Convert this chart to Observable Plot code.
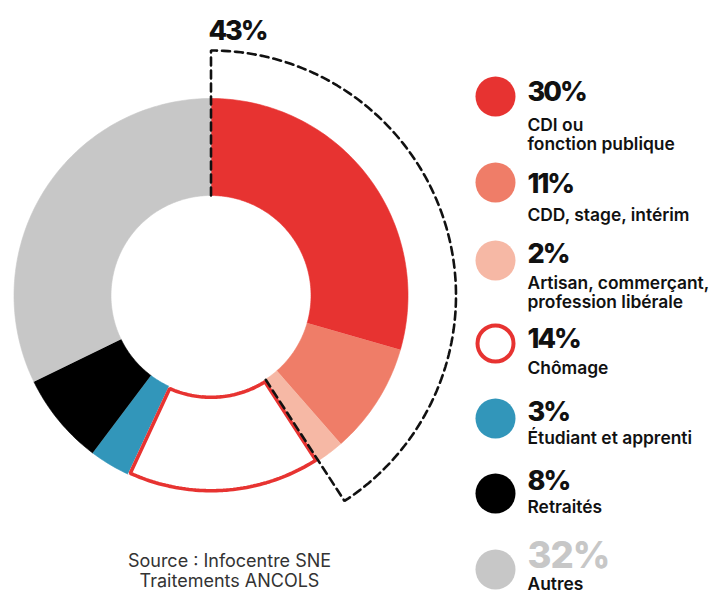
<!DOCTYPE html>
<html>
<head>
<meta charset="utf-8">
<script src="https://cdn.jsdelivr.net/npm/d3@7"></script>
<script src="https://cdn.jsdelivr.net/npm/@observablehq/plot@0.6"></script>
<style>
  body { margin: 0; background: #fff; }
  #chart svg { display: block; }
</style>
</head>
<body>
<div id="chart"></div>
<script>
// ---- data ----
const keys = ["cdi", "cdd", "artisan", "chomage", "etudiant", "retraites", "autres"];
const categories = [
  "CDI ou\nfonction publique",
  "CDD, stage, intérim",
  "Artisan, commerçant,\nprofession libérale",
  "Chômage",
  "Étudiant et apprenti",
  "Retraités",
  "Autres"
];
const percentLabels = ["30%", "11%", "2%", "14%", "3%", "8%", "32%"];
// slice shares as drawn in the picture (angular share, %)
const sliceShares = [29.44, 9.11, 2.28, 16.1, 3.33, 7.53, 32.21];
const highlightLabel = "43%";
const highlightCount = 3;
const sourceText = "Source : Infocentre SNE\nTraitements ANCOLS";

// ---- styles / layout ----
const colors = ["#e73331", "#ef7d68", "#f6b8a5", "#ffffff", "#3296ba", "#000000", "#c7c7c7"];
const chomageStroke = "#e73331";
const W = 709, H = 594;
const cx = 210.5, cy = 295, rOuter = 197, rInner = 100, rDash = 245;
const legendX = 495, textX = 527;
const legendY = [96, 182, 260, 343, 418, 493, 569];
const pctBase = [100, 192, 262, 347, 420, 489, 567];
const labelBase = [149, 220, 307, 373, 443, 512, 589];
const FONT = "Inter, 'Noto Sans', sans-serif";

const total = d3.sum(sliceShares);
const cum = [0, ...d3.cumsum(sliceShares)].map(v => v / total * 2 * Math.PI);
const pt = (a, r) => ({x: cx + r * Math.sin(a), y: cy - r * Math.cos(a)});

function arcPts(a0, a1, r) {
  const n = Math.max(6, Math.ceil(Math.abs(a1 - a0) * 180 / Math.PI));
  return d3.range(n + 1).map(k => pt(a0 + (a1 - a0) * k / n, r));
}

// slice polygons
const slicePts = [];
keys.forEach((k, i) => {
  const a0 = cum[i], a1 = cum[i + 1];
  const pts = [...arcPts(a0, a1, rOuter), ...arcPts(a1, a0, rInner)];
  pts.forEach(p => slicePts.push({...p, key: k}));
});

// chomage outline (inset by half stroke)
const ci = keys.indexOf("chomage");
const sw = 3.6, h = sw / 2;
const ro = rOuter - h, rin = rInner + h;
const chomPts = [
  ...arcPts(cum[ci] + h / ro, cum[ci + 1] - h / ro, ro),
  ...arcPts(cum[ci + 1] - h / rin, cum[ci] + h / rin, rin)
];
chomPts.push(chomPts[0]);

// dashed highlight outline
const aEnd = cum[highlightCount];
const dashPts = [pt(0, rInner), ...arcPts(0, aEnd, rDash), pt(aEnd, rInner)];

const idx = d3.range(keys.length);

const chart = Plot.plot({
  width: W,
  height: H,
  margin: 0,
  x: {domain: [0, W], range: [0, W], axis: null},
  y: {domain: [0, H], range: [0, H], axis: null},
  color: {domain: keys, range: colors},
  style: {fontFamily: FONT, background: "white"},
  marks: [
    Plot.line(slicePts, {x: "x", y: "y", z: "key", fill: "key", stroke: "key", strokeWidth: 0.6, curve: "linear"}),
    Plot.line(chomPts, {x: "x", y: "y", fill: "white", stroke: chomageStroke, strokeWidth: sw, strokeLinejoin: "miter"}),
    Plot.line(dashPts, {x: "x", y: "y", stroke: "#111", strokeWidth: 2.6, strokeDasharray: "8,5", strokeLinejoin: "miter", fill: "none"}),
    Plot.text([highlightLabel], {x: () => 208, y: () => 39, text: d => d, textAnchor: "start", lineAnchor: "bottom", fontSize: 27, fontWeight: 800, fill: "#111"}),
    // legend swatches
    Plot.dot(idx.filter(i => keys[i] !== "chomage"), {x: () => legendX, y: i => legendY[i], r: 20, fill: i => keys[i]}),
    Plot.dot([ci], {x: () => legendX, y: i => legendY[i], r: 18, fill: "white", stroke: chomageStroke, strokeWidth: 4}),
    // percentages
    Plot.text(idx.filter(i => keys[i] !== "autres"), {x: () => textX, y: i => pctBase[i], text: i => percentLabels[i], textAnchor: "start", lineAnchor: "bottom", fontSize: 27, fontWeight: 800, fill: "#111"}),
    Plot.text(idx.filter(i => keys[i] === "autres"), {x: () => textX, y: i => pctBase[i], text: i => percentLabels[i], textAnchor: "start", lineAnchor: "bottom", fontSize: 36.5, fontWeight: 800, fill: "#c7c7c7"}),
    // category labels
    Plot.text(idx, {x: () => textX, y: i => labelBase[i], text: i => categories[i], textAnchor: "start", lineAnchor: "bottom", lineHeight: 1.09, fontSize: 17.4, fontWeight: 600, fill: "#111"}),
    // source
    Plot.text([sourceText], {x: () => 229, y: () => 586, text: d => d, textAnchor: "middle", lineAnchor: "bottom", lineHeight: 1.06, fontSize: 18, fontWeight: 400, fill: "#333"})
  ]
});
// slightly tighter tracking for the big percentage figures
const smallPct = new Set([highlightLabel, ...percentLabels.filter((d, i) => keys[i] !== "autres")]);
const bigPct = new Set(percentLabels.filter((d, i) => keys[i] === "autres"));
d3.select(chart).selectAll("text").each(function() {
  const t = this.textContent;
  if (smallPct.has(t)) this.setAttribute("letter-spacing", "-2");
  else if (bigPct.has(t)) this.setAttribute("letter-spacing", "-1");
});
document.getElementById("chart").append(chart);
</script>
</body>
</html>
